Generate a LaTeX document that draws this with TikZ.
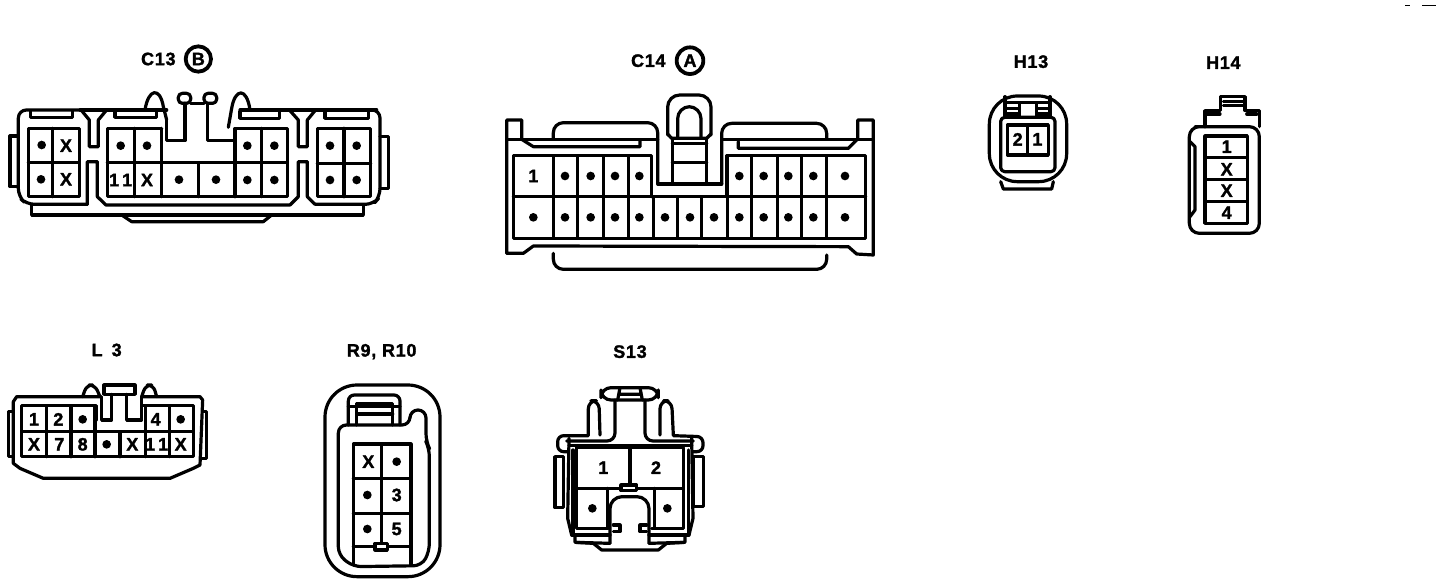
\documentclass[tikz,border=0pt]{standalone}
\usepackage{fontspec}
\setmainfont{Liberation Sans}
\newfontfamily\pinfont[LetterSpace=4,FakeBold=1.6]{Liberation Sans Bold}
\newcounter{lblcnt}
\newcommand\pindot[2]{\fill (#1,#2) circle (13);}
\newcommand\lbl[3]{\stepcounter{lblcnt}\node[pintext] (t\arabic{lblcnt}) at (#1,#2) {#3};}
\tikzset{pintext/.style={inner sep=0pt,font=\pinfont\fontsize{9}{9}\selectfont},
 zoomed/.style={scale=1/3,line width=1.6pt,line join=round,line cap=round}}
\begin{document}
\begin{tikzpicture}[x=0.5pt,y=-0.5pt]
\useasboundingbox (0,0) rectangle (1440,584);
\fill[white] (0,0) rectangle (1440,584);
% C13
\begin{scope}[shift={(0,40)},zoomed]
\lbl{475}{57}{C13}
\draw[line width=1.9pt] (595,57) circle (38);
\lbl{595}{57}{B}
\draw[rounded corners=4pt] (262,493)--(80,493)--(55,470)--(55,210)--(240,210);
\draw (240,210)--(500,210) (720,210)--(1130,210);
\draw (245,212)--(268,240)--(268,320)--(295,320)--(295,240)--(318,212);
\draw (870,212)--(895,240)--(895,320)--(922,320)--(922,240)--(945,212);
\draw[rounded corners=4pt] (1120,210)--(1140,210)--(1140,470)--(1120,493)--(945,493);
\draw (262,493)--(262,365)--(292,365)--(292,470)--(318,495)--(870,495)--(895,470)--(895,365)--(922,365)--(922,470)--(945,493);
\draw (95,495)--(95,525)--(1090,525)--(1090,495);
\draw (365,525)--(395,545)--(790,545)--(815,525);
\draw (55,288)--(30,288)--(30,440)--(55,440);
\draw (1140,290)--(1165,290)--(1165,445)--(1140,445);
\draw (92,213)--(92,232)--(218,232)--(218,213);
\draw (345,213)--(345,232)--(470,232)--(470,213);
\draw (720,215)--(720,235)--(838,235)--(838,215);
\draw (975,215)--(975,235)--(1105,235)--(1105,215);
\draw (85,265) rectangle (238,470) (85,368)--(238,368) (158,265)--(158,470);
\draw (485,265)--(322,265)--(322,470)--(862,470)--(862,265)--(705,265)--(705,302)--(622,302)--(622,190);
\draw (555,190)--(555,302)--(500,302)--(500,240);
\draw (322,368)--(862,368);
\draw (403,265)--(403,470) (485,265)--(485,470) (595,368)--(595,470) (705,302)--(705,470) (785,265)--(785,470);
\draw (435,210) .. controls (445,145) and (480,140) .. (490,200)--(500,240);
\draw (685,262)--(695,205) .. controls (705,145) and (740,140) .. (750,210);
\draw[rounded corners=2pt] (535,160) rectangle (572,190) (612,160) rectangle (650,190);
\draw (572,190)--(612,190);
\draw (952,265) rectangle (1112,470) (952,370)--(1112,370) (1032,265)--(1032,470);
\foreach \x/\y in {125/315,123/418,362/317,441/317,537/419,648/419,742/317,823/317,742/420,823/420,990/317,1070/317,990/420,1070/420}{\pindot{\x}{\y}}
\lbl{198}{317}{X}\lbl{198}{418}{X}\lbl{441}{420}{X}\lbl{362}{420}{1\,1}
\end{scope}
% C14
\begin{scope}[shift={(495,40)},zoomed]
\lbl{460}{62}{C14}
\draw[line width=1.9pt] (585,62) circle (40);
\lbl{585}{62}{A}
\draw (80,298)--(80,240)--(35,240)--(35,640)--(85,640)--(115,618)--(1060,620)--(1085,642)--(1135,645)--(1135,240)--(1088,240)--(1088,298);
\draw (35,298)--(488,298) (685,298)--(1135,298);
\draw[rounded corners=5pt] (175,298)--(175,248)--(488,248)--(488,432);
\draw[rounded corners=5pt] (680,432)--(680,250)--(995,250)--(995,298);
\draw (80,298)--(115,320)--(435,320)--(435,300);
\draw (730,305)--(730,325)--(1060,325)--(1085,300);
\draw[rounded corners=5pt] (175,640)--(175,688)--(995,688)--(995,645);
\draw (470,470)--(470,347)--(55,347)--(55,595)--(1112,595)--(1112,347)--(695,347)--(695,470);
\draw (55,470)--(1112,470);
\foreach \x in {175,248,325,400,697,770,848,920,995}{\draw (\x,347)--(\x,595);}
\foreach \x in {475,548,620}{\draw (\x,470)--(\x,595);}
\draw (488,432)--(680,432);
\draw[rounded corners=6pt] (518,285)--(518,165)--(648,165)--(648,285);
\draw (518,282)--(530,295)--(635,295)--(648,282);
\draw[rounded corners=6pt] (548,290)--(548,200)--(618,200)--(618,290);
\draw (532,295)--(532,430) (635,295)--(635,430) (532,310)--(635,310) (532,368)--(635,368);
\foreach \x in {210,287,360,433,733,806,880,955,1050}{\pindot{\x}{408}}
\foreach \x in {115,210,287,360,433,510,585,657,733,806,880,955,1050}{\pindot{\x}{532}}
\lbl{115}{408}{1}
\end{scope}
% H13 H14
\begin{scope}[shift={(970,40)},zoomed]
\lbl{183}{65}{H13}\lbl{760}{68}{H14}
\draw[rounded corners=14pt] (58,168) rectangle (290,425);
\draw[rounded corners=2pt] (92,232) rectangle (255,395);
\draw (105,170)--(105,232) (240,170)--(240,232) (148,188)--(148,232) (200,188)--(200,232);
\draw (105,188)--(240,188) (108,205)--(148,205) (108,222)--(148,222) (200,205)--(240,205) (200,222)--(240,222);
\draw (92,425)--(100,447)--(245,447)--(250,425);
\draw (112,255) rectangle (235,345) (172,255)--(172,345);
\lbl{143}{298}{2}\lbl{202}{298}{1}
\draw[rounded corners=5pt] (705,260)--(658,260)--(658,580)--(868,580)--(868,260)--cycle;
\draw (705,260)--(705,212)--(752,212)--(752,170)--(825,170)--(825,212)--(868,212)--(868,260);
\draw (760,185)--(820,185) (760,197)--(820,197) (712,222)--(750,222) (830,222)--(860,222);
\draw (660,305)--(675,320)--(675,510)--(660,530);
\draw (705,288) rectangle (832,550) (705,352)--(832,352) (705,418)--(832,418) (705,485)--(832,485);
\lbl{770}{320}{1}\lbl{770}{388}{X}\lbl{770}{452}{X}\lbl{770}{518}{4}
\end{scope}
% L3
\begin{scope}[shift={(0,335)},zoomed]
\lbl{320}{45}{L\,\,\,3}
\draw (300,185)--(50,185)--(40,200)--(40,385)--(60,400)--(130,430)--(510,430)--(580,400)--(600,390)--(608,195)--(600,185)--(425,185);
\draw (40,230)--(25,230)--(25,365)--(40,365) (608,230)--(620,230)--(620,370)--(605,370);
\draw (65,212)--(288,212)--(288,255) (65,212)--(65,365)--(580,365)--(580,212)--(425,212);
\draw (305,185)--(305,255)--(335,255)--(335,178) (380,178)--(380,255)--(425,255)--(425,185);
\draw (312,150) rectangle (405,178);
\draw (65,290)--(580,290);
\foreach \x in {140,213,285,437,508}{\draw (\x,212)--(\x,365);}
\draw (360,290)--(360,365);
\draw[rounded corners=3pt] (248,185)--(260,150)--(285,150)--(300,185);
\draw[rounded corners=3pt] (425,185)--(437,150)--(460,150)--(470,185);
\lbl{102}{253}{1}\lbl{175}{253}{2}\pindot{248}{253}\lbl{467}{253}{4}\pindot{542}{253}
\lbl{102}{328}{X}\lbl{178}{328}{7}\lbl{248}{328}{8}\pindot{320}{328}\lbl{397}{328}{X}\lbl{470}{328}{1\,1}\lbl{542}{328}{X}
\end{scope}
% R9 R10
\begin{scope}[shift={(310,335)},zoomed]
\lbl{215}{50}{R9, R10}
\draw[rounded corners=16pt] (45,150) rectangle (390,725);
\draw[rounded corners=4pt] (85,345)--(85,270)--(300,270)--(300,225)--(348,225)--(348,320)--(358,340)--(358,650)--(335,692)--(130,695)--(85,660)--cycle;
\draw[rounded corners=3pt] (115,270)--(115,180)--(270,180)--(270,270);
\draw (140,270)--(140,205)--(248,205)--(248,270) (115,215)--(270,215) (140,237)--(248,237);
\draw (130,690)--(130,327)--(303,327)--(303,690);
\draw (130,430)--(303,430) (130,535)--(303,535) (130,635)--(195,635) (232,635)--(303,635) (215,327)--(215,625);
\draw[fill=white] (195,625) rectangle (232,645);
\lbl{175}{380}{X}\pindot{260}{380}\pindot{172}{480}\lbl{260}{480}{3}\pindot{172}{582}\lbl{260}{582}{5}
\end{scope}
% S13
\begin{scope}[shift={(545,335)},zoomed]
\lbl{255}{50}{S13}
\draw[rounded corners=5pt] (168,158) rectangle (340,195);
\draw (225,158)--(218,195) (285,158)--(292,195) (225,178)--(285,178);
\draw[rounded corners=4pt] (210,195)--(210,318)--(65,318) (300,195)--(300,318)--(445,318);
\draw[rounded corners=4pt] (130,300)--(130,197)--(162,197)--(165,300);
\draw[rounded corners=4pt] (345,300)--(345,197)--(380,197)--(385,300);
\draw[rounded corners=3pt] (130,302)--(38,302)--(38,350)--(68,350);
\draw[rounded corners=3pt] (385,302)--(474,305)--(474,350)--(445,350);
\draw (72,310)--(68,550)--(80,600);
\draw (440,310)--(444,550)--(432,600);
\draw (84,345)--(84,600) (430,345)--(430,600);
\draw (72,332)--(440,332);
\draw (190,580)--(95,580)--(95,338)--(415,338)--(415,580)--(320,580);
\draw (95,460)--(415,460) (255,338)--(255,450) (187,460)--(187,580) (328,460)--(328,580);
\draw[fill=white] (228,450) rectangle (275,467);
\draw[rounded corners=6pt] (195,625)--(195,485)--(312,485)--(312,625);
\draw (205,570)--(225,570)--(225,590)--(205,590) (305,570)--(285,570)--(285,590)--(305,590);
\draw (30,365)--(55,365)--(55,518)--(30,518)--cycle (445,365)--(475,365)--(475,515)--(445,515)--cycle;
\draw (80,600)--(195,600) (312,600)--(432,600);
\draw (90,600)--(90,622)--(145,625)--(170,645)--(340,645)--(365,625)--(420,622)--(420,600);
\draw (92,622)--(195,625) (312,625)--(418,622);
\pindot{142}{520}\pindot{367}{520}
\lbl{175}{398}{1}\lbl{333}{398}{2}
\end{scope}
\draw[line width=0.5pt] (1405,5)--(1410,5) (1422,5)--(1436,5);
\end{tikzpicture}
\end{document}
